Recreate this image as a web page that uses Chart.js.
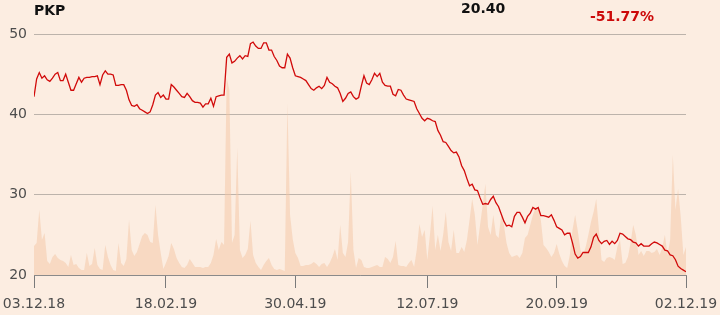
<!DOCTYPE html>
<html>
<head>
<meta charset="utf-8">
<script src="https://cdn.jsdelivr.net/npm/chart.js@4.4.1/dist/chart.umd.min.js"></script>
<style>
    body { margin: 0; background: #fcede1; }
    .wrap { position: relative; width: 720px; height: 315px; }
    .head { position: absolute; font: bold 14px "DejaVu Sans", sans-serif; line-height: 14px; color: #111; }
    #name { left: 34px; top: 3px; }
    #last { left: 461px; top: 1px; }
    #change { left: 590px; top: 9px; color: #cc0a0a; }
</style>
</head>
<body>
<div class="wrap">
    <canvas id="stockChart" width="720" height="315"></canvas>
    <div class="head" id="name">PKP</div>
    <div class="head" id="last">20.40</div>
    <div class="head" id="change">-51.77%</div>
</div>
<script>
//============================================= Data =============================================//
// one value per trading day, 03.12.18 .. 02.12.19
const prices = [
    42.2, 44.4, 45.2, 44.5, 44.8, 44.3, 44.1, 44.5, 45.0, 45.2,
    44.2, 44.2, 45.0, 44.0, 43.0, 43.0, 43.8, 44.6, 44.0, 44.5,
    44.6, 44.6, 44.7, 44.7, 44.8, 43.7, 44.9, 45.4, 45.0, 45.0,
    44.9, 43.6, 43.6, 43.7, 43.7, 43.0, 41.8, 41.1, 41.0, 41.2,
    40.7, 40.5, 40.3, 40.1, 40.3, 41.2, 42.4, 42.7, 42.1, 42.4,
    41.9, 41.9, 43.7, 43.4, 43.0, 42.6, 42.2, 42.1, 42.6, 42.2,
    41.7, 41.5, 41.5, 41.4, 40.9, 41.3, 41.3, 42.0, 41.0, 42.2,
    42.3, 42.4, 42.4, 47.1, 47.5, 46.4, 46.6, 47.0, 47.3, 46.9,
    47.3, 47.2, 48.8, 49.0, 48.5, 48.2, 48.2, 48.9, 48.9, 48.0,
    48.0, 47.2, 46.7, 46.0, 45.8, 45.8, 47.5, 47.0, 45.8, 44.8,
    44.7, 44.6, 44.4, 44.2, 43.7, 43.2, 43.0, 43.3, 43.5, 43.2,
    43.6, 44.6, 44.0, 43.8, 43.5, 43.3, 42.6, 41.6, 42.0, 42.6,
    42.8, 42.2, 41.9, 42.1, 43.5, 44.8, 43.9, 43.7, 44.3, 45.1,
    44.7, 45.1, 44.0, 43.6, 43.5, 43.5, 42.5, 42.3, 43.1, 43.0,
    42.4, 41.9, 41.8, 41.7, 41.6, 40.7, 40.1, 39.5, 39.2, 39.5,
    39.4, 39.2, 39.1, 38.0, 37.4, 36.6, 36.5, 36.0, 35.5, 35.2,
    35.3, 34.7, 33.6, 33.0, 32.0, 31.1, 31.3, 30.6, 30.5, 29.6,
    28.8, 28.9, 28.8, 29.4, 29.8, 29.0, 28.5, 27.6, 26.7, 26.1,
    26.2, 26.0, 27.3, 27.8, 27.8, 27.2, 26.5, 27.3, 27.7, 28.4,
    28.2, 28.4, 27.4, 27.4, 27.3, 27.2, 27.5, 26.8, 26.0, 25.8,
    25.6, 25.0, 25.2, 25.2, 24.0, 22.6, 22.1, 22.3, 22.8, 22.8,
    22.8, 23.5, 24.7, 25.1, 24.3, 23.9, 24.2, 24.3, 23.8, 24.2,
    23.9, 24.3, 25.2, 25.1, 24.8, 24.5, 24.4, 24.1, 24.0, 23.6,
    23.9, 23.6, 23.6, 23.6, 23.9, 24.1, 24.0, 23.8, 23.6, 23.1,
    23.0, 22.5, 22.4, 21.9, 21.1, 20.8, 20.6, 20.4
];

// traded volume, thousands of shares
const volumes = [
    290, 320, 650, 350, 420, 140, 110, 180, 210, 170,
    150, 140, 120, 80, 200, 100, 110, 70, 50, 50,
    220, 90, 110, 270, 100, 60, 50, 300, 180, 100,
    50, 40, 320, 120, 90, 160, 550, 250, 190, 230,
    310, 390, 420, 400, 330, 320, 700, 400, 220, 60,
    120, 190, 320, 260, 170, 120, 80, 70, 100, 160,
    120, 80, 80, 80, 70, 80, 80, 120, 200, 360,
    250, 330, 300, 1970, 1850, 320, 400, 1270, 250, 170,
    200, 260, 540, 200, 120, 80, 50, 100, 140, 170,
    100, 60, 50, 60, 50, 40, 1710, 600, 360, 220,
    170, 90, 90, 100, 100, 110, 130, 110, 80, 110,
    120, 80, 120, 180, 260, 150, 500, 220, 180, 330,
    1030, 250, 70, 170, 150, 80, 70, 70, 80, 90,
    100, 80, 80, 180, 160, 120, 180, 340, 100, 90,
    90, 80, 120, 150, 80, 250, 510, 380, 450, 150,
    400, 690, 250, 400, 240, 400, 630, 330, 240, 450,
    220, 220, 280, 230, 350, 550, 760, 600, 300, 500,
    700, 910, 480, 400, 600, 400, 370, 600, 500, 320,
    220, 180, 190, 200, 170, 220, 370, 400, 500, 600,
    670, 680, 550, 300, 270, 230, 180, 220, 310, 210,
    140, 90, 70, 200, 450, 600, 440, 250, 200, 280,
    400, 530, 630, 760, 450, 150, 130, 170, 180, 170,
    150, 280, 350, 110, 120, 180, 320, 500, 400, 200,
    240, 190, 240, 240, 220, 230, 260, 200, 270, 400,
    200, 350, 1200, 650, 860, 580, 200, 280
];

const tickDays = [0, 50, 99, 149, 198, 247];
const tickLabels = ['03.12.18', '18.02.19', '30.04.19', '12.07.19', '20.09.19', '02.12.19'];

//============================================= Chart =============================================//
Chart.defaults.font.family = '"DejaVu Sans", sans-serif';
Chart.defaults.font.size = 14;
Chart.defaults.color = '#4d4d4d';

const priceData = prices.map((v, i) => ({ x: i, y: v }));
const volumeData = volumes.map((v, i) => ({ x: i, y: v }));

const stockConfig = {
    type: 'line',
    data: {
        datasets: [
            {
                label: 'PKP',
                data: priceData,
                borderColor: '#d10a0a',
                borderWidth: 1.3,
                pointRadius: 0,
                tension: 0,
                yAxisID: 'y',
                order: 0
            },
            {
                label: 'Volume',
                data: volumeData,
                borderWidth: 0,
                backgroundColor: 'rgba(244, 198, 164, 0.5)',
                fill: 'origin',
                pointRadius: 0,
                tension: 0,
                yAxisID: 'vol',
                order: 1
            }
        ]
    },
    options: {
        responsive: false,
        animation: false,
        devicePixelRatio: 1,
        layout: {
            padding: { top: 34, right: 34, left: 0, bottom: 0 }
        },
        plugins: {
            legend: { display: false },
            tooltip: { enabled: false }
        },
        scales: {
            x: {
                type: 'linear',
                min: 0,
                max: 247,
                afterBuildTicks: (scale) => {
                    scale.ticks = tickDays.map(v => ({ value: v }));
                },
                afterFit: (scale) => {
                    // labels may overhang the plot, keep the plot edges fixed
                    scale.height = 40;
                    scale.paddingLeft = 0;
                    scale.paddingRight = 0;
                },
                ticks: {
                    autoSkip: false,
                    maxRotation: 0,
                    padding: 8,
                    callback: (value) => tickLabels[tickDays.indexOf(value)]
                },
                grid: {
                    drawOnChartArea: false,
                    drawTicks: true,
                    tickLength: 13,
                    color: '#7a7a7a'
                },
                border: {
                    display: true,
                    color: '#8a8a8a'
                }
            },
            y: {
                position: 'left',
                min: 20,
                max: 50,
                afterFit: (scale) => {
                    scale.width = 34;
                    scale.paddingTop = 0;
                    scale.paddingBottom = 0;
                },
                ticks: {
                    stepSize: 10,
                    padding: 7
                },
                grid: {
                    color: '#bcb3ab',
                    drawTicks: false
                },
                border: { display: false }
            },
            vol: {
                display: false,
                min: 0,
                max: 2410
            }
        }
    }
};

new Chart(document.getElementById('stockChart'), stockConfig);
</script>
</body>
</html>
